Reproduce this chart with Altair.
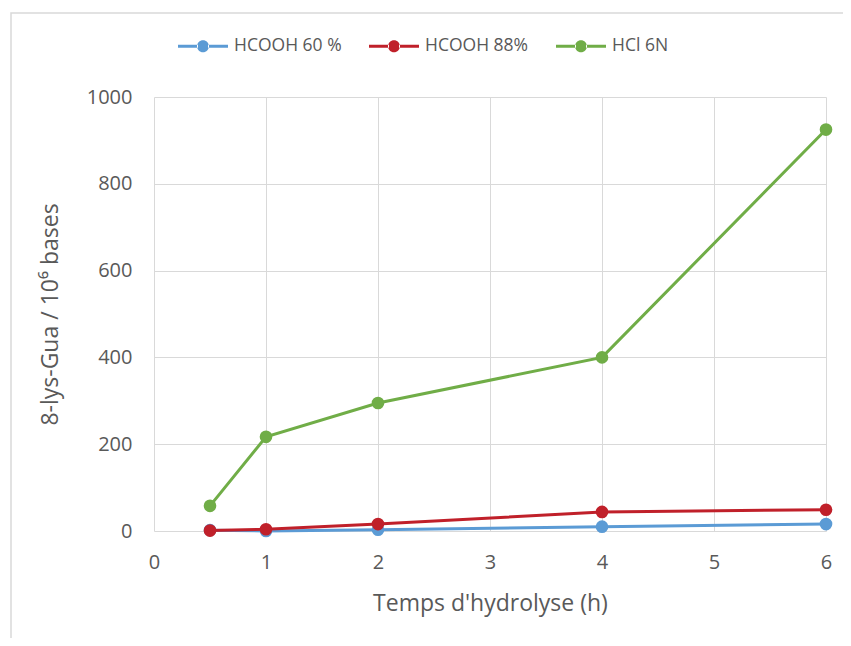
import altair as alt
import pandas as pd

hours = [0.5, 1, 2, 4, 6]
hcooh60 = [2, 0, 3, 10, 16]
hcooh88 = [1, 4, 16, 44, 49]
hcl6n = [58, 217, 295, 400, 925]
series = ["HCOOH 60 %", "HCOOH 88%", "HCl 6N"]
colors = ["#5B9BD5", "#C0202A", "#70AD47"]
x_ticks = [0, 1, 2, 3, 4, 5, 6]
y_ticks = [0, 200, 400, 600, 800, 1000]

rows = []
for name, vals in zip(series, [hcooh60, hcooh88, hcl6n]):
    for h, v in zip(hours, vals):
        rows.append({"h": h, "v": v, "s": name})
df = pd.DataFrame(rows)

FONT = "Open Sans"
GREY = "#595959"
GRID = "#d9d9d9"

sym = ("M-1,-0.06H-0.2V0.06H-1Z M0.2,-0.06H1V0.06H0.2Z "
       "M-0.24,0A0.24,0.24 0 1,0 0.24,0A0.24,0.24 0 1,0 -0.24,0Z")

color = alt.Color(
    "s:N",
    scale=alt.Scale(domain=series, range=colors),
    sort=series,
    legend=alt.Legend(
        title=None, orient="none", direction="horizontal",
        legendX=24, legendY=-76, symbolType=sym, symbolSize=2500,
        symbolStrokeWidth=0, symbolOpacity=1, labelFont=FONT, labelFontSize=17.5,
        labelColor=GREY, labelOffset=6, columnPadding=27, padding=0,
    ),
)

x = alt.X("h:Q", scale=alt.Scale(domain=[0, 6], nice=False),
          axis=alt.Axis(values=x_ticks, format="d", title="Temps d'hydrolyse (h)", grid=True,
                        gridColor=GRID, domain=False, ticks=False, labelFlush=False,
                        labelFont=FONT, labelFontSize=20, labelColor=GREY, labelPadding=21,
                        titleFont=FONT, titleFontSize=23, titleColor=GREY, titleFontWeight="normal",
                        titleX=336, titleY=72, titleBaseline="middle"))
y = alt.Y("v:Q", scale=alt.Scale(domain=[0, 1000], nice=False),
          axis=alt.Axis(values=y_ticks, format="d", title="8-lys-Gua / 10⁶ bases", grid=True,
                        gridColor=GRID, domain=False, ticks=False, labelFlush=False,
                        labelFont=FONT, labelFontSize=20, labelColor=GREY, labelPadding=22,
                        titleFont=FONT, titleFontSize=23, titleColor=GREY, titleFontWeight="normal",
                        titleX=-104, titleY=217, titleAngle=-90, titleBaseline="middle",
                        titleAlign="center"))

border = alt.Chart(pd.DataFrame({"a": [0]})).mark_rect(
    fill=None, stroke=GRID, strokeWidth=1.5
).encode(x=alt.value(-143), y=alt.value(-84), x2=alt.value(720), y2=alt.value(600))

layers = [border]
for name in series:
    sub = df[df.s == name]
    layers.append(alt.Chart(sub).mark_line(strokeWidth=3).encode(x=x, y=y, color=color))
    layers.append(alt.Chart(sub).mark_circle(size=160, opacity=1).encode(x="h:Q", y="v:Q", color=color))

chart = alt.layer(*layers).properties(
    width=672, height=434,
    autosize=alt.AutoSizeParams(type="none"),
    padding={"left": 146, "top": 89, "right": 17, "bottom": 107},
).configure_view(stroke=None)

chart.save("out.html", embed_options={"renderer": "svg", "actions": False})
